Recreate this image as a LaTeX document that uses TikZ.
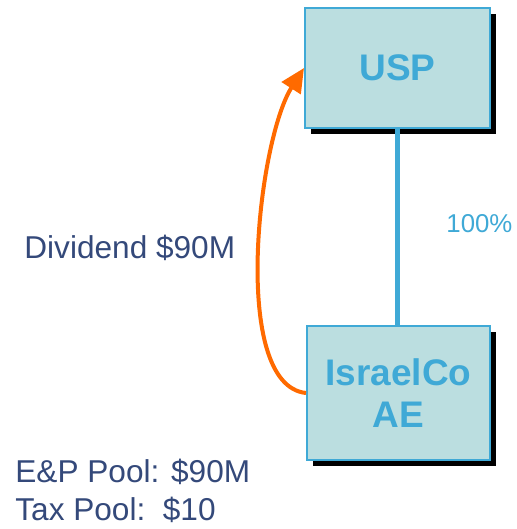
\documentclass[tikz,border=0pt]{standalone}
\usepackage{fontspec}
\setmainfont{Liberation Sans}
\usepackage{xcolor}
\usepackage{tikz}
\usetikzlibrary{arrows.meta,shadows}

\definecolor{boxfill}{HTML}{BBDEE0}
\definecolor{boxblue}{HTML}{3FA9D6}
\definecolor{textnavy}{HTML}{34497A}
\definecolor{divorange}{HTML}{FF6A00}

\begin{document}
\begin{tikzpicture}[x=0.5pt,y=-0.5pt,
    entity/.style={draw=boxblue, line width=1pt, fill=boxfill, text=boxblue,
        align=center, inner sep=0pt, font=\fontsize{18.5}{21}\selectfont\bfseries,
        drop shadow={shadow xshift=3pt, shadow yshift=-3pt, fill=black, opacity=1}},
    label/.style={text=textnavy, anchor=west, inner sep=0pt, font=\fontsize{15.8}{18}\selectfont}]
    \useasboundingbox (0,0) rectangle (516,529);

    % Entities
    \node[entity, minimum width=92.5pt, minimum height=60pt] (usp) at (397.5,68) {USP};
    \node[entity, minimum width=91.5pt, minimum height=67pt] (israelco) at (398.5,393) {IsraelCo\\AE};

    % Ownership
    \draw[boxblue, line width=2.5pt] (usp.south) -- (usp.south |- israelco.north);
    \node[text=boxblue, anchor=west, inner sep=0pt, font=\fontsize{12.9}{15}\selectfont] (own) at (446,224) {100\%};

    % Dividend
    \draw[divorange, line width=2pt, -{Triangle[length=12pt,width=11pt]}]
        (israelco.west) .. controls (230,385) and (258,140) .. (usp.west);
    \node[label] (div) at (24,248) {Dividend \$90M};

    % Pools
    \node[label] (ep) at (15,472) {E\&P Pool: \$90M};
    \node[label] (tax) at (15,510) {Tax Pool:\ \ \$10};
\end{tikzpicture}
\end{document}
